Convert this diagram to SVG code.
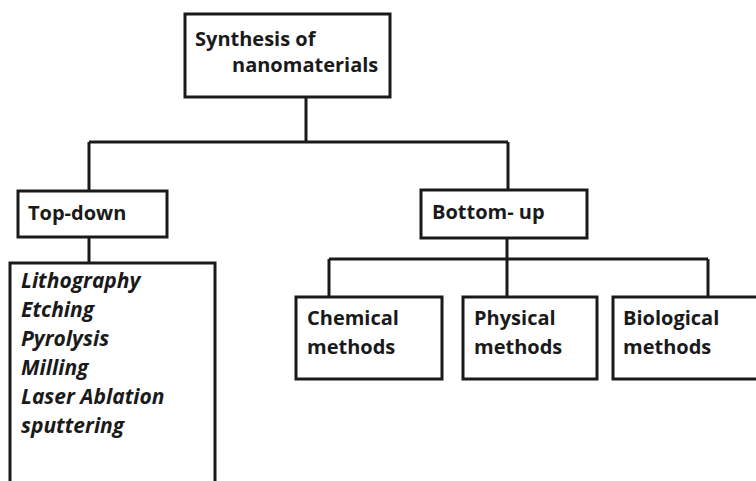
<svg xmlns="http://www.w3.org/2000/svg" width="756" height="481" viewBox="0 0 756 481">
  <style>
    .box { fill: #ffffff; stroke: #1a1a1a; stroke-width: 3; }
    .wire { fill: none; stroke: #1a1a1a; stroke-width: 3; }
    .lbl { font-family: "Open Sans", "Liberation Sans", sans-serif; font-weight: bold; font-size: 20px; fill: #1a1a1a; }
    .it { font-style: italic; font-size: 21px; }
  </style>
  <rect width="756" height="481" fill="#ffffff"/>

  <g id="connectors">
    <path class="wire" d="M306 97 V142 M89 142 H508 M89 142 V191 M508 142 V190"/>
    <path class="wire" d="M89 237 V263"/>
    <path class="wire" d="M507 238 V297 M329 259 H708 M329 259 V297 M708 259 V297"/>
  </g>

  <g id="synthesis">
    <rect class="box" x="185" y="14" width="205" height="83"/>
    <text class="lbl" x="195" y="46">Synthesis of</text>
    <text class="lbl" x="232" y="72">nanomaterials</text>
  </g>

  <g id="top-down">
    <rect class="box" x="18" y="191" width="149" height="46"/>
    <text class="lbl" x="28" y="220">Top-down</text>
  </g>

  <g id="top-down-methods">
    <path class="box" d="M10 490 V263 H215 V490"/>
    <text class="lbl it" x="21" y="288">Lithography</text>
    <text class="lbl it" x="21" y="317">Etching</text>
    <text class="lbl it" x="21" y="346">Pyrolysis</text>
    <text class="lbl it" x="21" y="375">Milling</text>
    <text class="lbl it" x="21" y="404">Laser Ablation</text>
    <text class="lbl it" x="21" y="433">sputtering</text>
  </g>

  <g id="bottom-up">
    <rect class="box" x="421" y="190" width="166" height="48"/>
    <text class="lbl" x="432" y="219">Bottom- up</text>
  </g>

  <g id="chemical">
    <rect class="box" x="296" y="297" width="146" height="82"/>
    <text class="lbl" x="307" y="325">Chemical</text>
    <text class="lbl" x="307" y="354">methods</text>
  </g>

  <g id="physical">
    <rect class="box" x="463" y="297" width="134" height="82"/>
    <text class="lbl" x="474" y="325">Physical</text>
    <text class="lbl" x="474" y="354">methods</text>
  </g>

  <g id="biological">
    <rect class="box" x="613" y="297" width="160" height="82"/>
    <text class="lbl" x="623" y="325">Biological</text>
    <text class="lbl" x="623" y="354">methods</text>
  </g>
</svg>
